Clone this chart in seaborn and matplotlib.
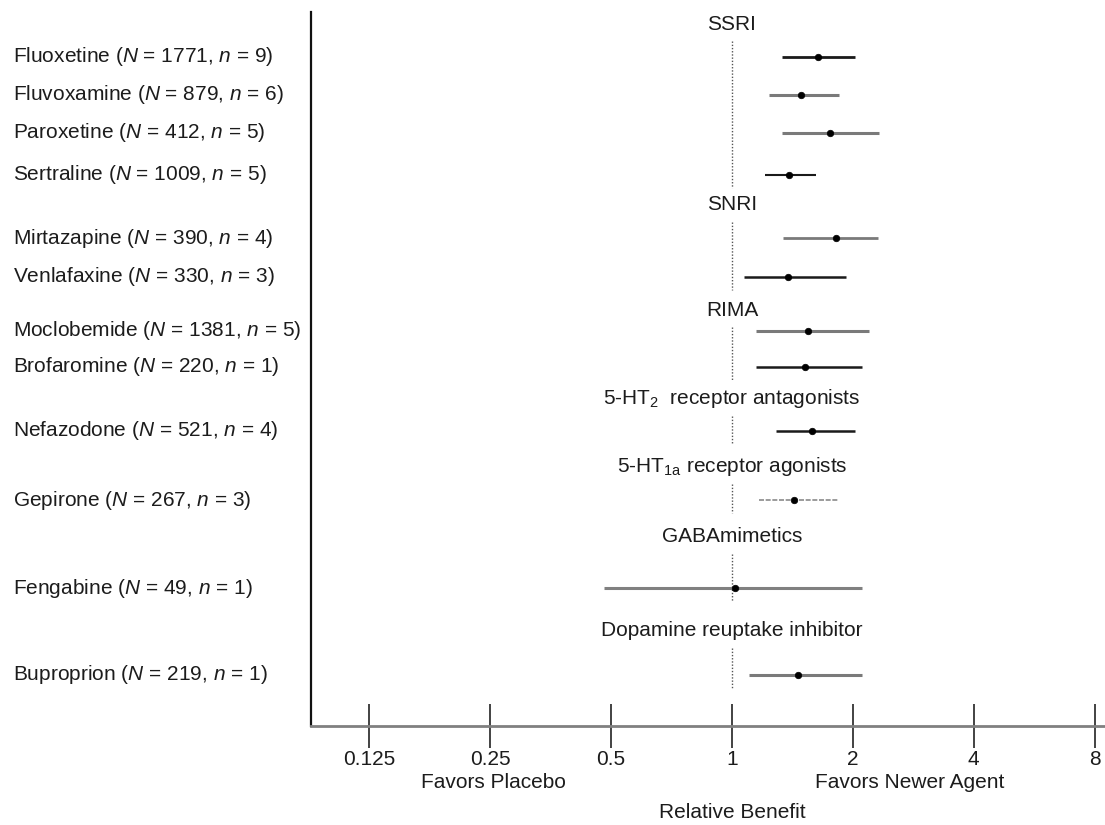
import matplotlib
matplotlib.use("Agg")
import matplotlib.pyplot as plt
import matplotlib.transforms as mtransforms
import seaborn as sns
import pandas as pd
import numpy as np

# ---------------- data ----------------
groups = ["SSRI", "SNRI", "RIMA", "5-HT$_\\mathregular{2}$  receptor antagonists",
          "5-HT$_\\mathregular{1a}$ receptor agonists", "GABAmimetics",
          "Dopamine reuptake inhibitor"]
drugs = ["Fluoxetine", "Fluvoxamine", "Paroxetine", "Sertraline",
         "Mirtazapine", "Venlafaxine",
         "Moclobemide", "Brofaromine",
         "Nefazodone",
         "Gepirone",
         "Fengabine",
         "Buproprion"]
drug_group = [0, 0, 0, 0, 1, 1, 2, 2, 3, 4, 5, 6]
N_patients = [1771, 879, 412, 1009, 390, 330, 1381, 220, 521, 267, 49, 219]
n_trials = [9, 6, 5, 5, 4, 3, 5, 1, 4, 3, 1, 1]
rel_benefit = [1.64, 1.49, 1.75, 1.39, 1.82, 1.38, 1.55, 1.52, 1.58, 1.43, 1.02, 1.46]
ci_low = [1.33, 1.24, 1.33, 1.21, 1.34, 1.07, 1.15, 1.15, 1.29, 1.17, 0.48, 1.10]
ci_high = [2.03, 1.85, 2.32, 1.62, 2.31, 1.92, 2.19, 2.11, 2.03, 1.85, 2.11, 2.11]
tick_values = [0.125, 0.25, 0.5, 1, 2, 4, 8]
tick_labels = ["0.125", "0.25", "0.5", "1", "2", "4", "8"]

# ---------------- layout (row positions, top -> bottom) ----------------
header_pos = [24, 205, 310, 399, 467, 537, 631]
drug_pos = [57, 95, 133, 175, 238, 277, 331, 367, 431, 500, 588, 675]
y_bottom, y_top = 726, 12
line_colors = ["#1a1a1a", "#7a7a7a", "#7a7a7a", "#1a1a1a", "#7a7a7a", "#1a1a1a",
               "#7a7a7a", "#1a1a1a", "#1a1a1a", "#8a8a8a", "#808080", "#7a7a7a"]
line_widths = [2.0, 2.2, 2.2, 1.5, 2.0, 1.8, 2.2, 1.8, 1.8, 1.2, 2.2, 2.2]
line_styles = ["-", "-", "-", "-", "-", "-", "-", "-", "-", (0, (3, 1)), "-", "-"]

df = pd.DataFrame({"drug": drugs, "rb": rel_benefit, "lo": ci_low, "hi": ci_high,
                   "pos": drug_pos, "group": drug_group})

sns.set_theme(style="white")
plt.rcParams["font.family"] = ["Liberation Sans", "DejaVu Sans"]
plt.rcParams["mathtext.fontset"] = "custom"
plt.rcParams["mathtext.rm"] = "Liberation Sans"
plt.rcParams["mathtext.it"] = "Liberation Sans:italic"

fig = plt.figure(figsize=(11.05, 8.25), dpi=100)
ax = fig.add_axes([311 / 1105, 1 - y_bottom / 825, 1 - 311 / 1105, (y_bottom - y_top) / 825])
ax.set_xscale("log", base=2)
ax.set_xlim(2 ** -3.48, 2 ** 3.085)
ax.set_ylim(y_bottom, y_top)

text_color = "#1c1c1c"

# reference line segments at 1 for each group
for g in range(len(groups)):
    rows = df[df["group"] == g]
    start = header_pos[g] + 17
    end = rows["pos"].max() + 13
    ax.vlines(1, start, end, colors="#555555", linestyles=(0, (1, 1.3)), linewidth=1.0)

# confidence intervals
for i, row in df.iterrows():
    ax.hlines(row["pos"], row["lo"], row["hi"], colors=line_colors[i],
              linewidth=line_widths[i], linestyles=[line_styles[i]])

# point estimates
sns.scatterplot(data=df, x="rb", y="pos", ax=ax, color="black", s=22,
                edgecolor="black", linewidth=0.5, zorder=5, legend=False)

# group headers
for g, name in enumerate(groups):
    ax.text(1, header_pos[g], name, ha="center", va="center", fontsize=15,
            color=text_color)

# drug labels
lbl_tr = mtransforms.blended_transform_factory(fig.transFigure, ax.transData)
for i, d in enumerate(drugs):
    lab = f"{d} ($\\mathit{{N}}$ = {N_patients[i]}, $\\mathit{{n}}$ = {n_trials[i]})"
    ax.text(13 / 1105, drug_pos[i], lab, transform=lbl_tr, ha="left", va="center",
            fontsize=15, color=text_color)

# axes styling
for side in ["top", "right"]:
    ax.spines[side].set_visible(False)
ax.spines["left"].set_color("#111111")
ax.spines["left"].set_linewidth(1.6)
ax.spines["bottom"].set_color("#808080")
ax.spines["bottom"].set_linewidth(2.0)
ax.set_yticks([])
ax.set_xticks(tick_values)
ax.set_xticklabels(tick_labels)
ax.xaxis.set_minor_locator(matplotlib.ticker.NullLocator())
ax.tick_params(axis="x", which="major", bottom=True, direction="inout", length=32,
               width=1.2, color="#222222", pad=1, labelsize=15, labelcolor=text_color)
ax.set_xlabel("")
ax.set_ylabel("")

bt = mtransforms.blended_transform_factory(ax.transData, fig.transFigure)
ax.text(0.25 * 1.02, 1 - 783 / 825, "Favors Placebo", transform=bt, ha="center",
        va="center", fontsize=15, color=text_color)
ax.text(2 ** 1.47, 1 - 783 / 825, "Favors Newer Agent", transform=bt, ha="center",
        va="center", fontsize=15, color=text_color)
ax.text(1, 1 - 813 / 825, "Relative Benefit", transform=bt, ha="center",
        va="center", fontsize=15, color=text_color)

fig.savefig("out.png", dpi=100, facecolor="white")
